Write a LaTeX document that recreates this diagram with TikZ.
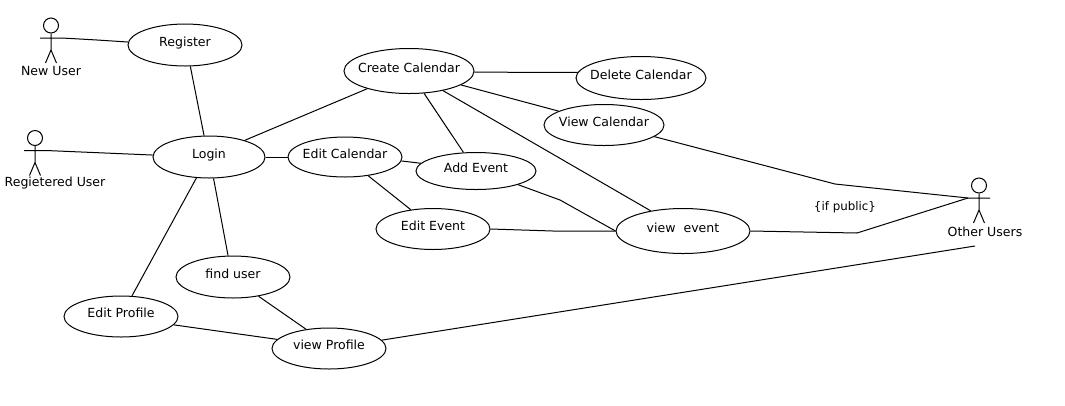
\documentclass[tikz,border=0pt]{standalone}
\usepackage{fontspec}
\setmainfont{DejaVu Sans}
\usetikzlibrary{shapes.geometric}
\tikzset{
  usecase/.style={ellipse,draw=black,line width=0.75pt,inner sep=0pt,fill=white,font=\fontsize{9.4}{11}\selectfont},
  link/.style={draw=black,line width=0.75pt,line join=round},
  limb/.style={draw=black,line width=0.75pt},
  head/.style={circle,draw=black,line width=0.75pt,inner sep=0pt,minimum size=11.25pt},
  caption/.style={inner sep=0pt,font=\fontsize{9.4}{11}\selectfont}
}
\newcommand{\UC}[6]{\node[usecase,minimum width=#4*1.5pt,minimum height=#5*1.5pt] (#1) at (#2,#3) {\raisebox{-1.6pt}{\smash{\makebox[0pt]{#6}}}};}
\newcommand{\actorfig}[3]{%
  \node[head] (#1) at (#2,#3) {};
  \coordinate (#1-n) at (#2,#3+24.5);
  \coordinate (#1-l) at (#2-11,#3+12.5);
  \coordinate (#1-r) at (#2+11,#3+12.5);
  \coordinate (#1-f1) at (#2-5.5,#3+37.5);
  \coordinate (#1-f2) at (#2+5.5,#3+37.5);
  \draw[limb] (#1) -- (#1-n) (#1-l) -- (#1-r) (#1-f1) -- (#1-n) -- (#1-f2);
}
\begin{document}
\begin{tikzpicture}[x=0.75pt,y=-0.75pt]
\useasboundingbox (0,0) rectangle (1065,405);
\fill[white] (0,0) rectangle (1065,405);
% actors
\actorfig{newuser}{51}{25.5}
\actorfig{reguser}{35}{138}
\actorfig{otheruser}{979}{185.5}
\node[caption] (newlabel) at (51,71.5) {New User};
\node[caption] (reglabel) at (55,183.5) {Regietered User};
\node[caption] (otherlabel) at (985,232) {Other Users};
% use cases
\UC{register}{185}{45}{57}{21}{Register}
\UC{login}{209}{157}{56}{21}{Login}
\UC{create}{409}{71}{65}{22.5}{Create Calendar}
\UC{delete}{641}{78}{65}{21.5}{Delete Calendar}
\UC{viewcal}{604}{125}{60}{20.5}{View Calendar}
\UC{editcal}{345}{157}{57}{20}{Edit Calendar}
\UC{addevent}{476}{171}{60}{18.5}{Add Event}
\UC{editevent}{433}{229}{57}{20.5}{Edit Event}
\UC{viewevent}{683}{231}{67}{22.5}{view\ \ event}
\UC{finduser}{233}{277}{57}{21}{find user}
\UC{editprofile}{121}{316.5}{57}{20.5}{Edit Profile}
\UC{viewprofile}{329}{348.5}{57}{20.5}{view Profile}
% free points
\coordinate (bendvc) at (835,184);
\coordinate (bendae) at (560,200);
\coordinate (bendee) at (553,231);
\coordinate (bendpub) at (857,233);
\coordinate (otherend) at (975,246);
\coordinate (bendnew) at (97,40);
% connectors
\draw[link] (newuser-r) -- (bendnew) -- (register.177);
\draw[link] (register.-76.6) -- (login.103.4);
\draw[link] (reguser-r) -- (login.178);
\draw[link] (login.25) -- (create.-157.5);
\draw[link] (login.0) -- (editcal.180);
\draw[link] (editcal.-4) -- (addevent.172);
\draw[link] (editcal.-39.3) -- (editevent.139.2);
\draw[link] (create.-56.3) -- (addevent.124.4);
\draw[link] (create.-1.8) -- (delete.175.5);
\draw[link] (create.-15) -- (viewcal.163.7);
\draw[link] (create.-30) -- (viewevent.148.8);
\draw[link] (viewcal.-13.8) -- (bendvc) -- (otheruser-l);
\draw[link] (addevent.-18.9) -- (bendae) -- (viewevent.180);
\draw[link] (editevent.0) -- (bendee) -- (viewevent.180);
\draw[link] (viewevent.0) -- (bendpub) -- (otheruser-l);
\draw[link] (login.-121) -- (editprofile.62);
\draw[link] (login.-78.7) -- (finduser.103);
\draw[link] (finduser.-37) -- (viewprofile.140.6);
\draw[link] (editprofile.-9) -- (viewprofile.170.7);
\draw[link] (viewprofile.9.5) -- (otherend);
% guard label
\node[caption,font=\fontsize{8.9}{11}\selectfont] (ifpublic) at (845,207) {\{if public\}};
\end{tikzpicture}
\end{document}
